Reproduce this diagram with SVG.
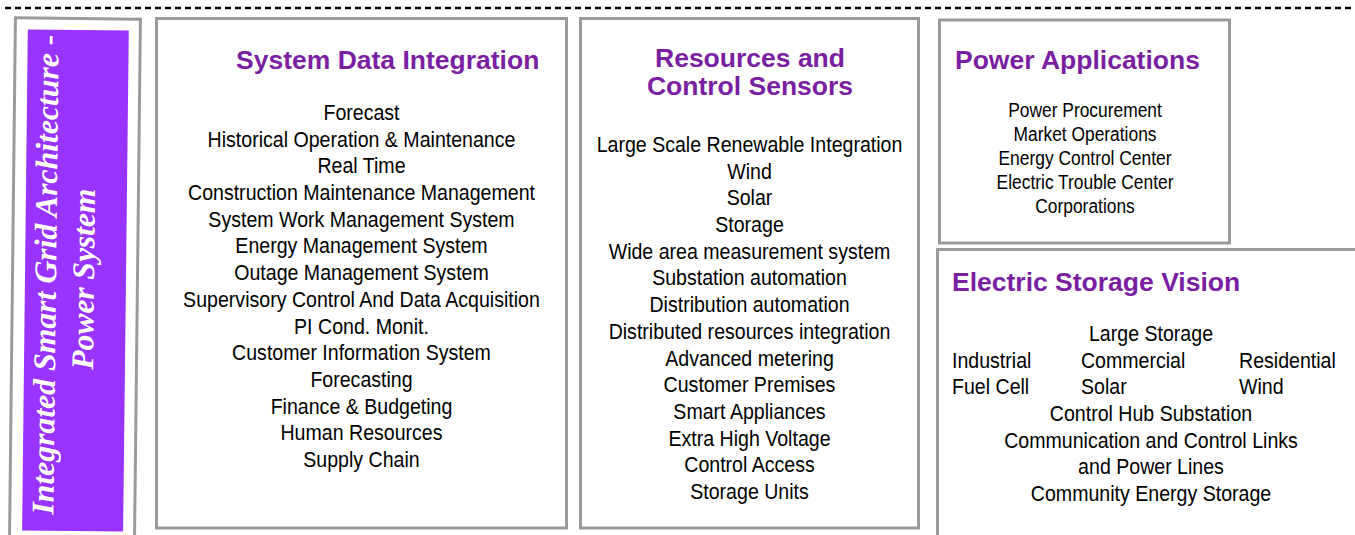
<svg xmlns="http://www.w3.org/2000/svg" width="1355" height="535" viewBox="0 0 1355 535">
  <style>
    .frame { fill: #ffffff; stroke: #9b9b9b; stroke-width: 3; }
    .title { font-family: "Liberation Sans", Arial, sans-serif; font-weight: bold; font-size: 26.5px; fill: #7b1fa2; }
    .body { font-family: "Liberation Sans", Arial, sans-serif; font-size: 22px; fill: #000000; text-anchor: middle; }
    .col { font-family: "Liberation Sans", Arial, sans-serif; font-size: 22px; fill: #000000; text-anchor: start; }
    .small { font-family: "Liberation Sans", Arial, sans-serif; font-size: 20px; fill: #000000; text-anchor: middle; }
    .side { font-family: "Liberation Serif", "Times New Roman", serif; font-weight: bold; font-style: italic; font-size: 31.5px; fill: #ffffff; text-anchor: middle; }
  </style>
  <rect width="1355" height="535" fill="#ffffff"/>

  <!-- top dashed rule -->
  <g id="connectors">
    <line x1="5" y1="8" x2="1355" y2="8" stroke="#000000" stroke-width="2.4" stroke-dasharray="6 4"/>
  </g>

  <!-- side banner, slightly tilted -->
  <g id="banner" transform="rotate(0.65 77 276)">
    <rect class="frame" x="12.5" y="18.5" width="125" height="525"/>
    <rect x="25" y="30" width="101" height="501" fill="#9933ff"/>
    <text class="side" transform="translate(56 275) rotate(-90)" textLength="480" lengthAdjust="spacingAndGlyphs">Integrated Smart Grid Architecture -</text>
    <text class="side" transform="translate(94 279) rotate(-90)">Power System</text>
  </g>

  <!-- System Data Integration -->
  <g id="system-data-integration">
    <rect class="frame" x="156.5" y="18.5" width="410" height="509.5"/>
    <text class="title" x="236" y="69">System Data Integration</text>
    <g transform="translate(361.5 0) scale(0.89 1)">
      <text class="body" x="0" y="120">Forecast</text>
      <text class="body" x="0" y="146.7">Historical Operation &amp; Maintenance</text>
      <text class="body" x="0" y="173.4">Real Time</text>
      <text class="body" x="0" y="200.1">Construction Maintenance Management</text>
      <text class="body" x="0" y="226.8">System Work Management System</text>
      <text class="body" x="0" y="253.5">Energy Management System</text>
      <text class="body" x="0" y="280.2">Outage Management System</text>
      <text class="body" x="0" y="306.9">Supervisory Control And Data Acquisition</text>
      <text class="body" x="0" y="333.6">PI Cond. Monit.</text>
      <text class="body" x="0" y="360.3">Customer Information System</text>
      <text class="body" x="0" y="387">Forecasting</text>
      <text class="body" x="0" y="413.7">Finance &amp; Budgeting</text>
      <text class="body" x="0" y="440.4">Human Resources</text>
      <text class="body" x="0" y="467.1">Supply Chain</text>
    </g>
  </g>

  <!-- Resources and Control Sensors -->
  <g id="resources-control-sensors">
    <rect class="frame" x="580.5" y="18.5" width="338" height="509.5"/>
    <text class="title" x="750" y="67" text-anchor="middle">Resources and</text>
    <text class="title" x="750" y="94.5" text-anchor="middle">Control Sensors</text>
    <g transform="translate(749.5 0) scale(0.89 1)">
      <text class="body" x="0" y="152">Large Scale Renewable Integration</text>
      <text class="body" x="0" y="178.7">Wind</text>
      <text class="body" x="0" y="205.4">Solar</text>
      <text class="body" x="0" y="232.1">Storage</text>
      <text class="body" x="0" y="258.8">Wide area measurement system</text>
      <text class="body" x="0" y="285.5">Substation automation</text>
      <text class="body" x="0" y="312.2">Distribution automation</text>
      <text class="body" x="0" y="338.9">Distributed resources integration</text>
      <text class="body" x="0" y="365.6">Advanced metering</text>
      <text class="body" x="0" y="392.3">Customer Premises</text>
      <text class="body" x="0" y="419">Smart Appliances</text>
      <text class="body" x="0" y="445.7">Extra High Voltage</text>
      <text class="body" x="0" y="472.4">Control Access</text>
      <text class="body" x="0" y="499.1">Storage Units</text>
    </g>
  </g>

  <!-- Power Applications -->
  <g id="power-applications">
    <rect class="frame" x="939.5" y="20" width="290" height="223"/>
    <text class="title" x="955" y="69">Power Applications</text>
    <g transform="translate(1085 0) scale(0.87 1)">
      <text class="small" x="0" y="116.7">Power Procurement</text>
      <text class="small" x="0" y="140.7">Market Operations</text>
      <text class="small" x="0" y="164.7">Energy Control Center</text>
      <text class="small" x="0" y="188.7">Electric Trouble Center</text>
      <text class="small" x="0" y="212.7">Corporations</text>
    </g>
  </g>

  <!-- Electric Storage Vision -->
  <g id="electric-storage-vision">
    <rect class="frame" x="937.5" y="249.5" width="430" height="300"/>
    <text class="title" x="952" y="291">Electric Storage Vision</text>
    <g transform="translate(1151 0) scale(0.89 1)">
      <text class="body" x="0" y="341">Large Storage</text>
      <text class="col" x="-223.6" y="367.7">Industrial</text>
      <text class="col" x="-78.7" y="367.7">Commercial</text>
      <text class="col" x="98.9" y="367.7">Residential</text>
      <text class="col" x="-223.6" y="394.4">Fuel Cell</text>
      <text class="col" x="-78.7" y="394.4">Solar</text>
      <text class="col" x="98.9" y="394.4">Wind</text>
      <text class="body" x="0" y="421.1">Control Hub Substation</text>
      <text class="body" x="0" y="447.8">Communication and Control Links</text>
      <text class="body" x="0" y="474.5">and Power Lines</text>
      <text class="body" x="0" y="501.2">Community Energy Storage</text>
    </g>
  </g>
</svg>
